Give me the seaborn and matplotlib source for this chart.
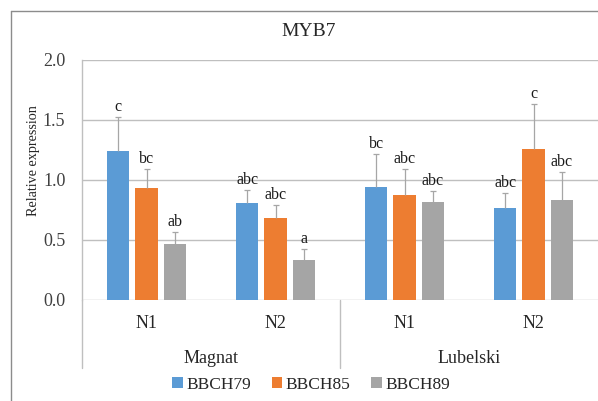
import matplotlib
matplotlib.use("Agg")
import matplotlib.pyplot as plt
from matplotlib.lines import Line2D
from matplotlib.patches import Patch
import numpy as np
import pandas as pd
import seaborn as sns

# ---- data ----
cultivars = ["Magnat", "Magnat", "Lubelski", "Lubelski"]
nitrogen = ["N1", "N2", "N1", "N2"]
stages = ["BBCH79", "BBCH85", "BBCH89"]

bbch79 = [1.245, 0.81, 0.94, 0.77]
bbch85 = [0.935, 0.68, 0.875, 1.26]
bbch89 = [0.465, 0.33, 0.815, 0.83]

err79 = [0.28, 0.11, 0.28, 0.12]
err85 = [0.16, 0.11, 0.22, 0.37]
err89 = [0.10, 0.095, 0.09, 0.24]

letters79 = ["c", "abc", "bc", "abc"]
letters85 = ["bc", "abc", "abc", "c"]
letters89 = ["ab", "a", "abc", "abc"]

colors = ["#5B9BD5", "#ED7D31", "#A5A5A5"]

groups = [f"{c} {n}" for c, n in zip(cultivars, nitrogen)]
values = [bbch79, bbch85, bbch89]
errors = [err79, err85, err89]
letters = [letters79, letters85, letters89]

df = pd.DataFrame({
    "group": np.repeat([groups], 3, axis=0).ravel(),
    "stage": np.repeat(stages, len(groups)),
    "value": np.concatenate(values),
})

# ---- figure ----
sns.set_theme(style="white")
serif = ["Liberation Serif", "DejaVu Serif"]
plt.rcParams["font.family"] = serif

W, H = 598, 401
fig = plt.figure(figsize=(W / 100, H / 100), dpi=100)
ax_left, ax_right, ax_top, ax_bot = 82, 598, 60, 300
ax = fig.add_axes([ax_left / W, 1 - ax_bot / H,
                   (ax_right - ax_left) / W, (ax_bot - ax_top) / H])

sns.barplot(data=df, x="group", y="value", hue="stage", order=groups,
            hue_order=stages, palette=colors, width=0.66, gap=0.2,
            saturation=1, errorbar=None, legend=False, ax=ax,
            edgecolor="none", linewidth=0)

grid_col = "#BFBFBF"
ax.set_ylim(0, 2.0)
ax.set_xlim(-0.5, len(groups) - 0.5)
ticks = [0, 0.5, 1.0, 1.5, 2.0]
ax.set_yticks(ticks)
ax.set_yticklabels([f"{v:.1f}" for v in ticks], fontsize=13, color="#404040")
ax.tick_params(axis="y", length=0, pad=12)
ax.yaxis.grid(True, color=grid_col, linewidth=1.0)
ax.set_axisbelow(True)
for s in ["top", "right", "bottom"]:
    ax.spines[s].set_visible(False)
ax.spines["left"].set_color(grid_col)
ax.spines["left"].set_linewidth(1.0)
ax.set_xlabel("")
ax.set_ylabel("")
ax.set_xticks([])

# error bars (upper only) and significance letters
err_col = "#A6A6A6"
for h in range(3):
    for i, bar in enumerate(ax.containers[h]):
        xc = bar.get_x() + bar.get_width() / 2
        top = bar.get_height()
        e = errors[h][i]
        ax.vlines(xc, top, top + e, color=err_col, linewidth=0.9, zorder=3)
        ax.plot([xc], [top + e], marker="_", markersize=4, color=err_col,
                markeredgewidth=0.9, zorder=3)
        ax.annotate(letters[h][i], (xc, top + e), xytext=(0, 1.5),
                    textcoords="offset points", ha="center", va="bottom",
                    fontsize=11.5, color="#1a1a1a")

# category axis below the plot
trans = ax.get_xaxis_transform()
for i, n in enumerate(nitrogen):
    ax.text(i, -0.096, n, transform=trans, ha="center", va="center",
            fontsize=13, color="#262626")
for name, xc in [("Magnat", 0.5), ("Lubelski", 2.5)]:
    ax.text(xc, -0.242, name, transform=trans, ha="center", va="center",
            fontsize=13, color="#262626")
for xs in [-0.5, 1.5]:
    ax.add_line(Line2D([xs, xs], [0, -0.283], transform=trans,
                       color=grid_col, linewidth=1.0, clip_on=False))

# y label and title
fig.text(33 / W, 1 - 161 / H, "Relative expression", rotation=90,
         ha="center", va="center", fontsize=10.2, color="#262626")
fig.text(309 / W, 1 - 32 / H, "MYB7", ha="center", va="center",
         fontsize=14, color="#262626")

# legend
handles = [Patch(facecolor=c, edgecolor="none") for c in colors]
fig.legend(handles, stages, loc="center", bbox_to_anchor=(311 / W, 1 - 385 / H),
           ncol=3, frameon=False, prop={"family": serif, "size": 12.5},
           handlelength=0.6, handleheight=0.6, handletextpad=0.2,
           columnspacing=1.2, labelcolor="#262626")

# outer chart frame
frame_col = "#8C8C8C"
fig.add_artist(Line2D([11 / W, 1.0], [1 - 11 / H, 1 - 11 / H],
                      transform=fig.transFigure, color=frame_col, linewidth=1.0))
fig.add_artist(Line2D([11 / W, 11 / W], [1 - 11 / H, 0],
                      transform=fig.transFigure, color=frame_col, linewidth=1.0))

fig.savefig("out.png", dpi=100, facecolor="white")
